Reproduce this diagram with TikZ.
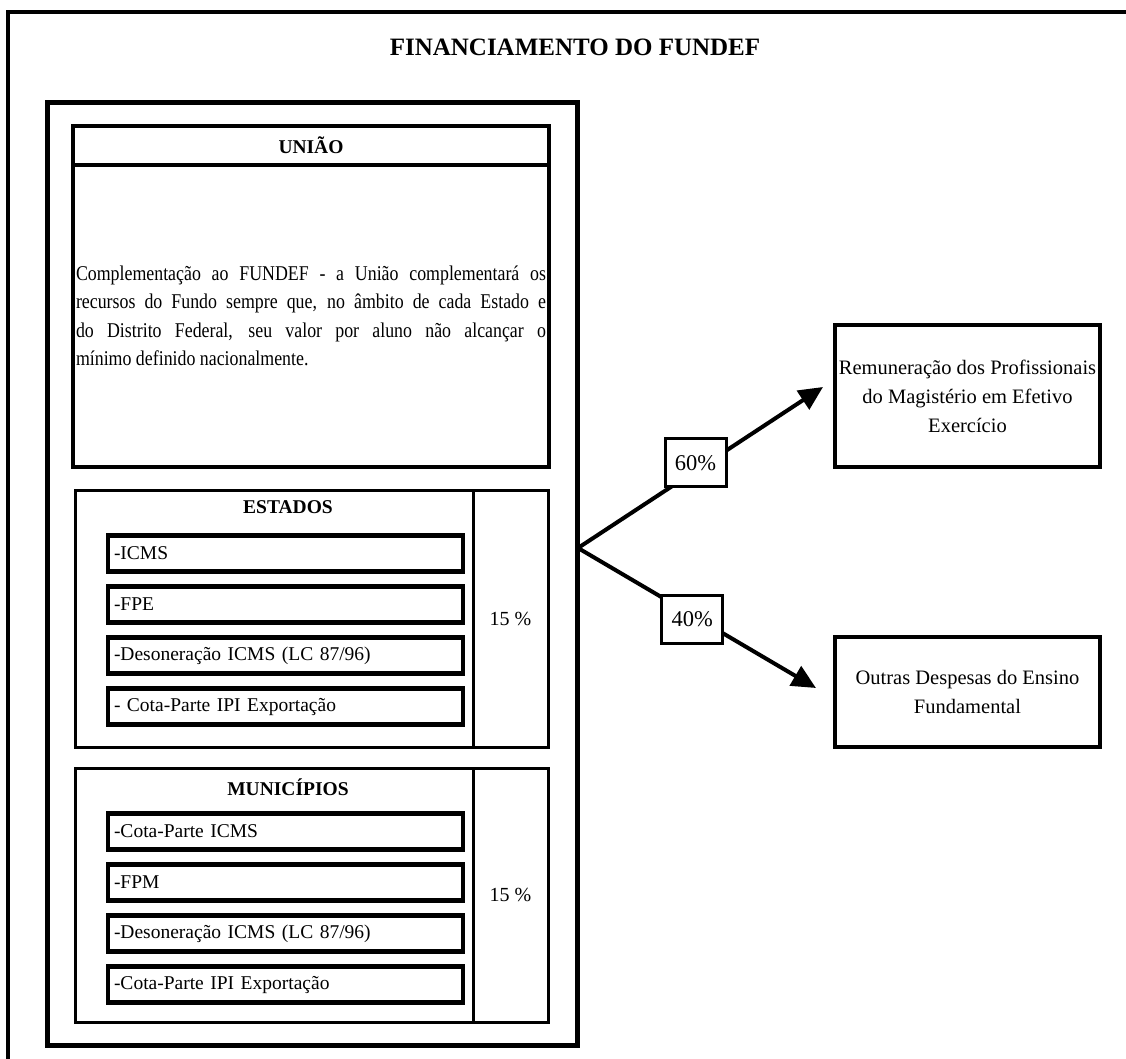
\documentclass[tikz,border=0pt]{standalone}
\usepackage{fontspec}
\setmainfont{Liberation Serif}
\newfontfamily\narrowserif[FakeStretch=0.85]{Liberation Serif}
\usetikzlibrary{arrows.meta, positioning, calc}

\newcommand{\jline}[1]{\makebox[\hsize][s]{#1}\\}

\begin{document}
\begin{tikzpicture}[
  x=1pt, y=-1pt,
  >={Triangle[length=24pt, width=22pt]},
  heavybox/.style={draw, line width=4.5pt, inner sep=0pt, outer sep=0pt},
  govbox/.style={draw, line width=3pt, inner sep=0pt, outer sep=0pt,
    minimum height=#1},
  itembox/.style={draw, line width=4.5pt, minimum width=355pt, minimum height=36pt,
    text width=343pt, inner xsep=6pt, inner ysep=0pt, align=left,
    font=\fontsize{19.5}{22}\selectfont},
  hdr/.style={font=\fontsize{19.5}{23}\selectfont\bfseries},
  share/.style={font=\fontsize{20}{23}\selectfont},
  pct/.style={draw, line width=3pt, fill=white, minimum width=61pt,
    minimum height=48pt, inner sep=0pt, font=\fontsize{22.5}{26}\selectfont},
  destbox/.style={draw, line width=4pt, minimum width=265pt, align=center,
    font=\fontsize{20.5}{29}\selectfont},
  arr/.style={->, line width=4pt},
]

\useasboundingbox (0,0) rectangle (1126,1059);

% Frame
\draw[line width=4pt] (8,1059) -- (8,12) -- (1126,12);

% Title
\node[font=\fontsize{25}{30}\selectfont\bfseries] (titulo) at (575,47)
  {FINANCIAMENTO DO FUNDEF};

% Fund container
\node[draw, line width=5pt, minimum width=530pt, minimum height=942pt] (fundo) at (312,574) {};

% Uniao
\node[heavybox, minimum width=476pt, minimum height=39pt, hdr] (uniaohd) at (311,145.5)
  {UNIÃO};
\node[heavybox, minimum width=476pt, minimum height=302pt, text width=470pt,
  inner xsep=3pt, align=justify, font=\narrowserif\fontsize{21}{28.4}\selectfont,
  below=0pt of uniaohd] (uniao)
  {\jline{Complementação ao FUNDEF - a União complementará os}
   \jline{recursos do Fundo sempre que, no âmbito de cada Estado e}
   \jline{do Distrito Federal, seu valor por aluno não alcançar o}
   mínimo definido nacionalmente.};

% Estados
\def\itemStep{51}
\node[govbox=257pt, minimum width=398pt] (estados) at (274,618.5) {};
\node[govbox=257pt, minimum width=75pt, share, right=0pt of estados] (estpct) {15 \%};
\node[hdr] (esthd) at (288,507) {ESTADOS};
\node[itembox] (e1) at (285.5, 553.5) {-ICMS};
\node[itembox] (e2) at (285.5, 553.5 + \itemStep*1) {-FPE};
\node[itembox] (e3) at (285.5, 553.5 + \itemStep*2) {-Desoneração ICMS (LC 87/96)};
\node[itembox] (e4) at (285.5, 553.5 + \itemStep*3) {- Cota-Parte IPI Exportação};

% Municipios
\node[govbox=254pt, minimum width=398pt] (municipios) at (274,895) {};
\node[govbox=254pt, minimum width=75pt, share, right=0pt of municipios] (munpct) {15 \%};
\node[hdr] (munhd) at (288,787) {MUNICÍPIOS};
\node[itembox] (m1) at (285.5, 831.5) {-Cota-Parte ICMS};
\node[itembox] (m2) at (285.5, 831.5 + \itemStep*1) {-FPM};
\node[itembox] (m3) at (285.5, 831.5 + \itemStep*2) {-Desoneração ICMS (LC 87/96)};
\node[itembox] (m4) at (285.5, 831.5 + \itemStep*3) {-Cota-Parte IPI Exportação};

% Destinations
\node[destbox, minimum height=142pt] (remun) at (967.5,396)
  {Remuneração dos Profissionais\\ do Magistério em Efetivo\\ Exercício};
\node[destbox, minimum height=110pt] (outras) at (967.5,692)
  {Outras Despesas do Ensino\\ Fundamental};

% Split arrows
\coordinate (fan) at (578,548);
\coordinate (tipA) at ([xshift=-10pt, yshift=9pt]remun.west);
\coordinate (tipB) at ([xshift=-17pt, yshift=4pt]outras.west);
\draw[arr] (fan) -- (tipA) node[pct, pos=0.48, yshift=8pt] (p60) {60\%};
\draw[arr] (fan) -- (tipB) node[pct, pos=0.48, yshift=-4pt] (p40) {40\%};

\end{tikzpicture}
\end{document}
